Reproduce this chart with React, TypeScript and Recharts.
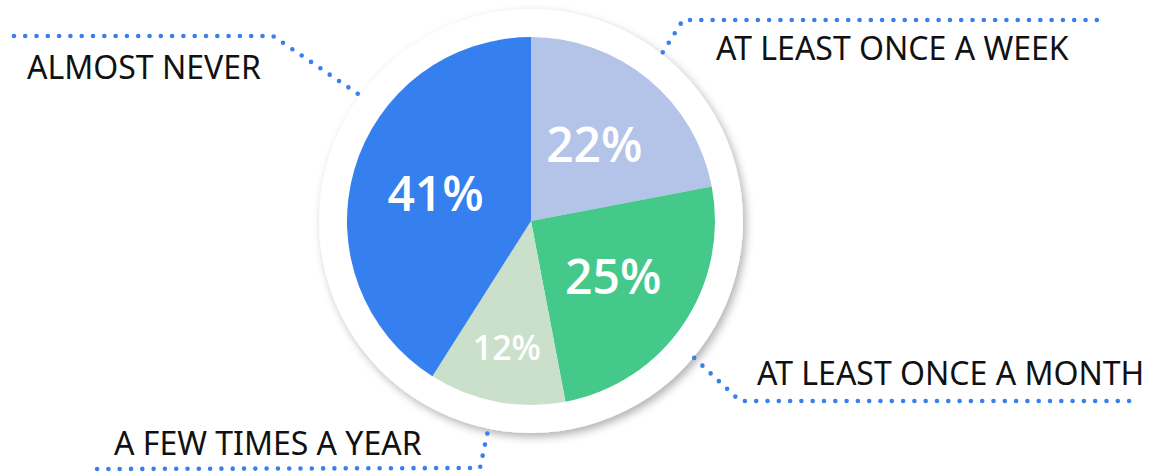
import React from "react";
import { PieChart, Pie, Cell } from "recharts";

const categories = [
  "AT LEAST ONCE A WEEK",
  "AT LEAST ONCE A MONTH",
  "A FEW TIMES A YEAR",
  "ALMOST NEVER",
];
const shares = [22, 25, 12, 41];
const sliceColors = ["#b4c3e8", "#44c98a", "#cae0cb", "#367fef"];

const chartData = categories.map((name, i) => ({ name, value: shares[i] }));
const ring = [{ name: "ring", value: 1 }];

// callout layout: start angle on the ring, elbow, end of the dotted rule, text spot
const callouts = [
  { angle: 52, r: 214, elbow: [683, 20], end: [1101, 20], text: [716, 60] },
  { angle: -40, r: 213, elbow: [740, 401], end: [1140, 401], text: [757, 385] },
  { angle: -101.6, r: 217, elbow: [480, 468], end: [95, 469], text: [114, 455] },
  { angle: 143.7, r: 215, elbow: [273, 36], end: [10, 36], text: [27, 79] },
];

const RAD = Math.PI / 180;
const DOT = "#3a7fea";

function renderLabel(props: any) {
  const { cx, cy, midAngle, outerRadius, index, value } = props;
  const small = value < 15;
  const fs = small ? 34 : 48;
  const lr = outerRadius * (small ? 0.7 : 0.54);
  const lx = cx + lr * Math.cos(-midAngle * RAD);
  const ly = cy + lr * Math.sin(-midAngle * RAD);
  const c = callouts[index];
  const sx = cx + c.r * Math.cos(-c.angle * RAD);
  const sy = cy + c.r * Math.sin(-c.angle * RAD);
  return (
    <g key={`lbl-${index}`}>
      <text
        x={lx}
        y={ly + fs * 0.36}
        fill="#fff"
        textAnchor="middle"
        fontFamily="'Open Sans', 'Noto Sans', sans-serif"
        fontWeight={600}
        fontSize={fs}
      >
        {value}%
      </text>
      <path
        d={`M${sx},${sy} L${c.elbow[0]},${c.elbow[1]} L${c.end[0]},${c.end[1]}`}
        fill="none"
        stroke={DOT}
        strokeWidth={4.6}
        strokeLinecap="round"
        strokeDasharray="0 11.3"
      />
      <text
        x={c.text[0]}
        y={c.text[1]}
        fill="#111"
        fontFamily="'Noto Sans', sans-serif"
        fontSize={32}
      >
        {chartData[index].name}
      </text>
    </g>
  );
}

export default function App() {
  return (
    <div style={{ width: 1155, height: 475, background: "#fff" }}>
      <style>{`body{margin:0}`}</style>
      <PieChart width={1155} height={475} margin={{ top: 0, right: 0, bottom: 0, left: 0 }}>
        <defs>
          <filter id="ringShadow" x="-20%" y="-20%" width="140%" height="140%">
            <feDropShadow dx="3" dy="4" stdDeviation="4" floodColor="#000" floodOpacity="0.3" />
          </filter>
        </defs>
        <Pie
          data={ring}
          dataKey="value"
          cx={531}
          cy={221}
          outerRadius={212}
          startAngle={90}
          endAngle={-270}
          fill="#fff"
          stroke="none"
          filter="url(#ringShadow)"
          isAnimationActive={false}
        />
        <Pie
          data={chartData}
          dataKey="value"
          nameKey="name"
          cx={531}
          cy={221}
          outerRadius={184}
          startAngle={90}
          endAngle={-270}
          stroke="none"
          label={renderLabel}
          labelLine={false}
          isAnimationActive={false}
        >
          {chartData.map((_, i) => (
            <Cell key={i} fill={sliceColors[i]} />
          ))}
        </Pie>
      </PieChart>
    </div>
  );
}
